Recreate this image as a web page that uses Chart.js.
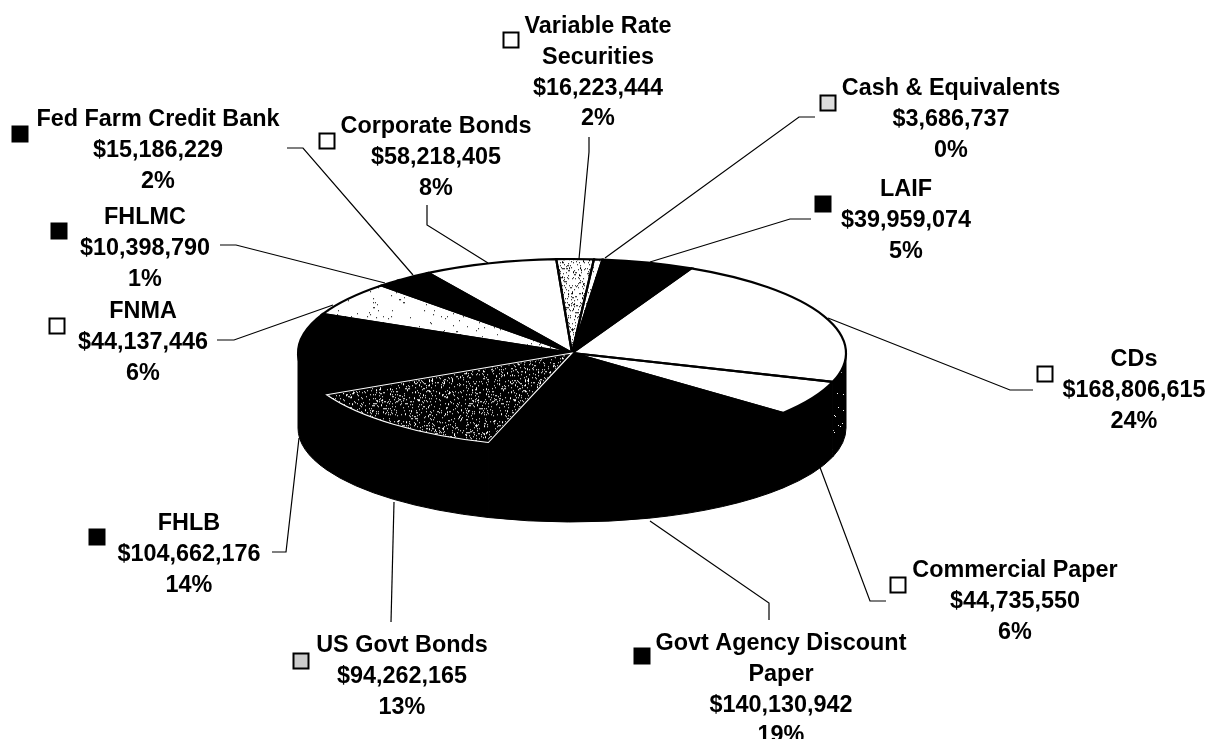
<!DOCTYPE html>
<html>
<head>
<meta charset="utf-8">
<title>Portfolio composition</title>
<script src="https://cdn.jsdelivr.net/npm/chart.js@4/dist/chart.umd.min.js"></script>
<style>
  html, body { margin: 0; padding: 0; background: #fff; overflow: hidden; }
  canvas { display: block; }
</style>
</head>
<body>
<canvas id="pie3d" width="1210" height="739"></canvas>
<script>
// values, clockwise from the top
const categories = [
  ['Variable Rate', 'Securities'],
  ['Cash & Equivalents'],
  ['LAIF'],
  ['CDs'],
  ['Commercial Paper'],
  ['Govt Agency Discount', 'Paper'],
  ['US Govt Bonds'],
  ['FHLB'],
  ['FNMA'],
  ['FHLMC'],
  ['Fed Farm Credit Bank'],
  ['Corporate Bonds'],
];
const amounts = [16223444, 3686737, 39959074, 168806615, 44735550, 140130942, 94262165, 104662176, 44137446, 10398790, 15186229, 58218405];
const percents = ['2%', '0%', '5%', '24%', '6%', '19%', '13%', '14%', '6%', '1%', '2%', '8%'];

// label block layout: centre x, y of first line, marker centre
const labelCentreX = [598, 951, 906, 1134, 1015, 781, 402, 189, 143, 145, 158, 436];
const labelFirstY = [26.5, 88.5, 189.5, 359.5, 570.5, 643.5, 645.5, 523.5, 311.5, 217.5, 119.5, 126.5];
const markerX = [511, 828, 823, 1045, 898, 642, 301, 97, 57, 59, 20, 327];
const markerY = [40, 103, 204, 374, 585, 656, 661, 537, 326, 231, 134, 141];

// leader lines, label end first
const leaders = [
  [[589, 137], [589, 152], [579, 259]],
  [[815, 117], [799, 117], [605, 258]],
  [[811, 219], [790, 219], [650, 262]],
  [[1033, 390], [1010, 390], [828, 318]],
  [[886, 601], [870, 601], [812, 446]],
  [[769, 620], [769, 603], [650, 521]],
  [[391, 622], [394, 502]],
  [[272, 552], [286, 552], [299, 438]],
  [[217, 340], [234, 340], [333, 305]],
  [[220, 245], [236, 245], [385, 283]],
  [[287, 148], [303, 148], [413, 275]],
  [[427, 205], [427, 225], [488, 263]],
];

const CX = 572, CY = 353, RX = 274, RY = 94, DEPTH = 75;
const SQUASH = RY / RX;

// speckle tile, fixed sequence so every run looks the same
function speckle(base, dot, density) {
  const size = 96;
  const tile = document.createElement('canvas');
  tile.width = tile.height = size;
  const g = tile.getContext('2d');
  g.fillStyle = base;
  g.fillRect(0, 0, size, size);
  g.fillStyle = dot;
  let s = 12345;
  for (let y = 0; y < size; y++) {
    for (let x = 0; x < size; x++) {
      s = (s * 1103515245 + 12345) & 0x7fffffff;
      if (((s >> 12) % 1000) / 1000 < density) g.fillRect(x, y, 1 + (s >> 5) % 2, 1);
    }
  }
  return g.createPattern(tile, 'repeat');
}

// slices get filled under the squash transform, undo it for the tile
function flat(pattern) {
  pattern.setTransform(new DOMMatrix().scale(1, 1 / SQUASH));
  return pattern;
}

const faceColors = [
  flat(speckle('#fff', '#000', 0.12)),
  flat(speckle('#fff', '#000', 0.03)),
  '#000',
  '#fff',
  '#fff',
  '#000',
  flat(speckle('#000', '#fff', 0.11)),
  '#000',
  flat(speckle('#fff', '#000', 0.015)),
  '#000',
  '#000',
  '#fff',
];
const outlineColors = ['#000', '#000', '#000', '#000', '#000', '#000', '#fff', '#000', '#000', '#000', '#000', '#000'];
const sideColors = ['#000', '#000', '#000', speckle('#000', '#fff', 0.012), '#000', '#000', '#000', '#000', '#000', '#000', '#000', '#000'];
const markerColors = ['#fff', '#ddd', '#000', '#fff', '#fff', '#000', '#ccc', '#000', '#fff', '#000', '#000', '#fff'];

const sidePlugin = {
  id: 'side',
  beforeDatasetsDraw(chart) {
    const ctx = chart.ctx;
    chart.getDatasetMeta(0).data.forEach((arc, i) => {
      const a0 = Math.max(arc.startAngle, 0);
      const a1 = Math.min(arc.endAngle, Math.PI);
      if (a1 <= a0) return;
      ctx.beginPath();
      ctx.ellipse(CX, CY, RX, RY, 0, a0, a1);
      ctx.ellipse(CX, CY + DEPTH, RX, RY, 0, a1, a0, true);
      ctx.closePath();
      ctx.fillStyle = sideColors[i];
      ctx.strokeStyle = sideColors[i];
      ctx.lineWidth = 1;
      ctx.fill();
      ctx.stroke();
    });
  },
  // lay the round pie down into an ellipse
  beforeDatasetDraw(chart) {
    const arc = chart.getDatasetMeta(0).data[0];
    const ctx = chart.ctx;
    ctx.save();
    ctx.translate(CX, CY);
    ctx.scale(RX / arc.outerRadius, SQUASH * RX / arc.outerRadius);
    ctx.translate(-arc.x, -arc.y);
  },
  afterDatasetDraw(chart) {
    chart.ctx.restore();
  },
  afterDatasetsDraw(chart) {
    const ctx = chart.ctx;
    const arcs = chart.getDatasetMeta(0).data;
    const order = arcs.map((_, i) => i).sort((a, b) => (outlineColors[a] === '#fff') - (outlineColors[b] === '#fff'));
    order.forEach((i) => {
      const arc = arcs[i];
      ctx.beginPath();
      ctx.moveTo(CX, CY);
      ctx.ellipse(CX, CY, RX, RY, 0, arc.startAngle, arc.endAngle);
      ctx.closePath();
      ctx.strokeStyle = outlineColors[i];
      ctx.lineWidth = outlineColors[i] === '#fff' ? 1.1 : 2.2;
      ctx.stroke();
    });
  },
};

const labelPlugin = {
  id: 'labels',
  afterDraw(chart) {
    const ctx = chart.ctx;
    ctx.save();
    ctx.strokeStyle = '#000';
    ctx.lineWidth = 1.2;
    leaders.forEach((points) => {
      ctx.beginPath();
      points.forEach(([x, y], i) => (i ? ctx.lineTo(x, y) : ctx.moveTo(x, y)));
      ctx.stroke();
    });

    ctx.font = 'bold 23.4px "Liberation Sans", Arial, sans-serif';
    ctx.textAlign = 'center';
    ctx.textBaseline = 'middle';
    ctx.fillStyle = '#000';
    categories.forEach((name, i) => {
      const lines = [...name, '$' + amounts[i].toLocaleString('en-US'), percents[i]];
      lines.forEach((line, n) => ctx.fillText(line, labelCentreX[i], labelFirstY[i] + n * 30.8));
    });

    ctx.lineWidth = 2;
    markerX.forEach((x, i) => {
      ctx.fillStyle = markerColors[i];
      ctx.fillRect(x - 7.5, markerY[i] - 7.5, 15, 15);
      ctx.strokeRect(x - 7.5, markerY[i] - 7.5, 15, 15);
    });
    ctx.restore();
  },
};

new Chart(document.getElementById('pie3d'), {
  type: 'pie',
  data: {
    labels: categories.map((name) => name.join(' ')),
    datasets: [{
      data: amounts,
      backgroundColor: faceColors,
      borderWidth: 0,
    }],
  },
  options: {
    responsive: false,
    animation: false,
    rotation: -3.3,
    radius: 274,
    plugins: {
      legend: { display: false },
      tooltip: { enabled: false },
    },
  },
  plugins: [sidePlugin, labelPlugin],
});
</script>
</body>
</html>
